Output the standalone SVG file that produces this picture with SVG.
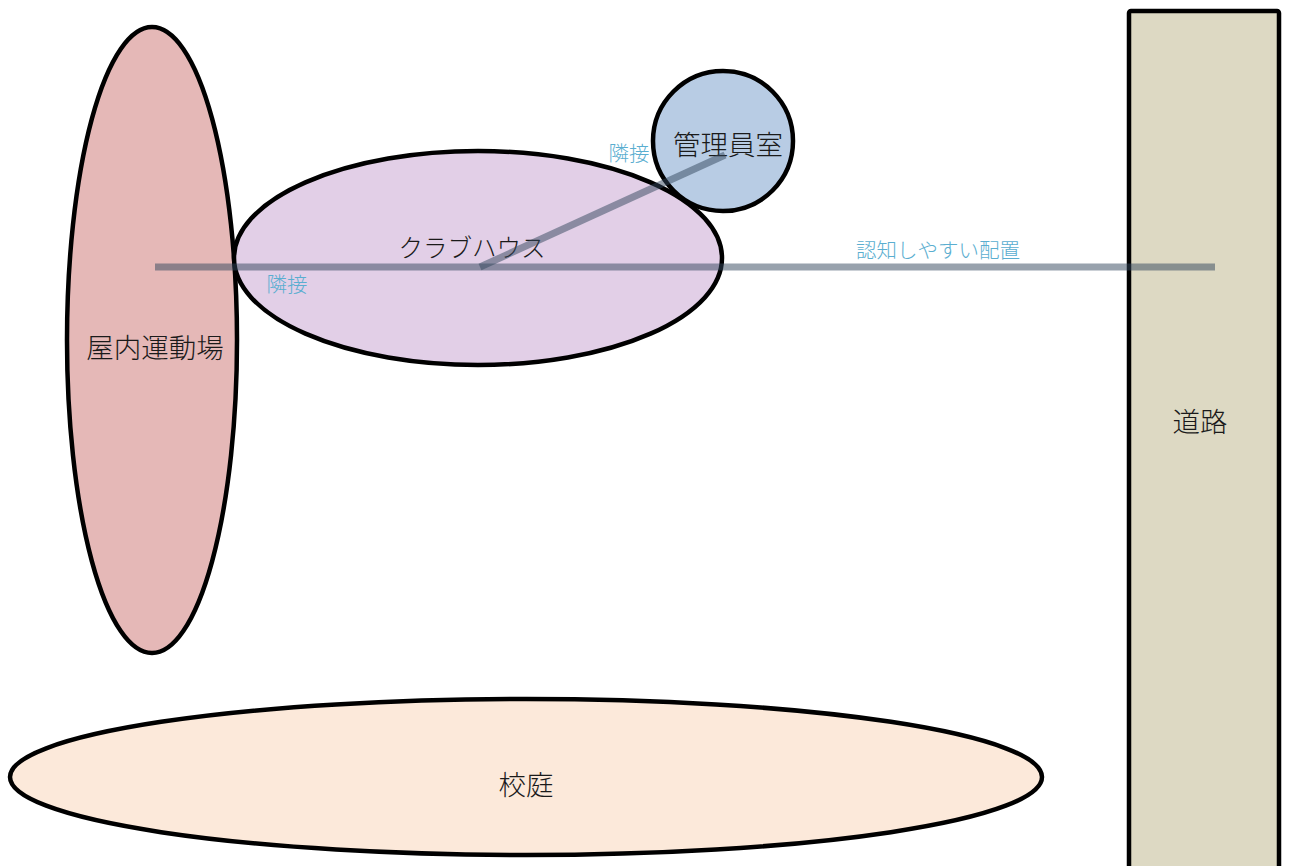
<svg xmlns="http://www.w3.org/2000/svg" width="1289" height="866" viewBox="0 0 1289 866">
<style>
.node{stroke:#000;stroke-width:4.5}
.lbl{font-family:"Noto Sans CJK JP","Liberation Sans",sans-serif;font-size:27.5px;font-weight:300;fill:#1a1a1a;text-anchor:middle;dominant-baseline:central}
.clbl{font-family:"Noto Sans CJK JP","Liberation Sans",sans-serif;font-size:20.5px;font-weight:300;fill:#5aaed0;text-anchor:middle;dominant-baseline:central}
.conn{stroke:#32465c;stroke-opacity:0.5;stroke-width:7;fill:none}
</style>
<rect width="1289" height="866" fill="#fff"/>
<g id="node-gym">
<ellipse class="node" cx="152" cy="340" rx="85" ry="313" fill="#e5b8b7"/>
<text class="lbl" x="155" y="346">屋内運動場</text>
</g>
<g id="node-clubhouse">
<ellipse class="node" cx="478" cy="258" rx="244" ry="107" fill="#e2cfe7"/>
<text class="lbl" x="472" y="246" style="font-size:24.5px">クラブハウス</text>
</g>
<g id="node-office">
<circle class="node" cx="723" cy="141" r="70" fill="#b8cce4"/>
<text class="lbl" x="728" y="143">管理員室</text>
</g>
<g id="node-road">
<rect class="node" x="1129" y="11" width="150" height="880" rx="2" fill="#ddd9c3"/>
<text class="lbl" x="1200" y="420">道路</text>
</g>
<g id="node-schoolyard">
<ellipse class="node" cx="526" cy="777" rx="516" ry="78" fill="#fce9da"/>
<text class="lbl" x="526" y="783">校庭</text>
</g>
<g id="connectors">
<line class="conn" x1="155" y1="267" x2="480" y2="267"/>
<line class="conn" x1="480" y1="267" x2="1215" y2="267"/>
<line class="conn" x1="480" y1="267" x2="725" y2="155"/>
<text class="clbl" x="287" y="283">隣接</text>
<text class="clbl" x="629" y="152">隣接</text>
<text class="clbl" x="938" y="249">認知しやすい配置</text>
</g>
</svg>
